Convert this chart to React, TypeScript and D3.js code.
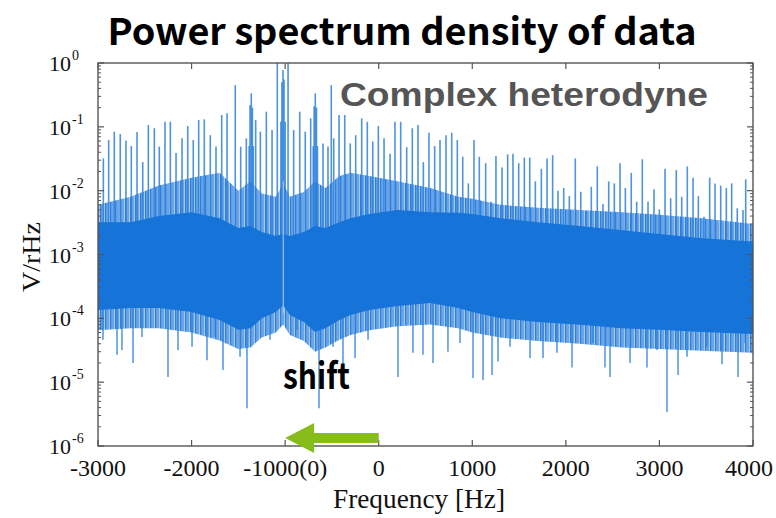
import React from 'react';
import * as d3 from 'd3';

const W = 776;
const H = 518;

// ---- axis data ----
const xTickValues = [-3000, -2000, -1000, 0, 1000, 2000, 3000, 4000];
const xTickLabels = ['-3000', '-2000', '-1000(0)', '0', '1000', '2000', '3000', '4000'];
const yTickExponents = [0, -1, -2, -3, -4, -5, -6];

// ---- noise band envelope (V/rHz) ----
const envFreqs = [-3000, -2650, -2350, -2000, -1700, -1500, -1370, -1250, -1100, -1020, -950, -800, -680, -570, -420, -300, -100, 200, 550, 850, 1000, 1300, 1700, 2150, 2600, 3000, 3450, 4000];
const coreTop = [3.2e-3, 3.2e-3, 4.0e-3, 4.6e-3, 3.7e-3, 2.6e-3, 2.8e-3, 2.25e-3, 1.95e-3, 2.1e-3, 1.95e-3, 2.25e-3, 2.8e-3, 2.6e-3, 3.2e-3, 3.7e-3, 4.3e-3, 5.0e-3, 4.6e-3, 4.5e-3, 4.3e-3, 3.7e-3, 3.2e-3, 2.8e-3, 2.4e-3, 2.1e-3, 1.8e-3, 1.6e-3];
const coreBottom = [1.35e-4, 1.45e-4, 1.45e-4, 1.26e-4, 9.4e-5, 6.6e-5, 7.0e-5, 1.0e-4, 1.26e-4, 1.6e-4, 1.13e-4, 8.8e-5, 6.1e-5, 7.0e-5, 9.4e-5, 1.13e-4, 1.35e-4, 1.56e-4, 1.74e-4, 1.45e-4, 1.26e-4, 1.0e-4, 8.8e-5, 7.9e-5, 7.0e-5, 6.6e-5, 6.1e-5, 5.7e-5];
const fringeTop = [6.0e-3, 8.0e-3, 1.2e-2, 1.6e-2, 1.9e-2, 1.0e-2, 1.4e-2, 9.0e-3, 8.0e-3, 1.3e-2, 8.0e-3, 9.5e-3, 1.4e-2, 1.1e-2, 1.7e-2, 1.9e-2, 1.7e-2, 1.4e-2, 1.1e-2, 8.0e-3, 7.5e-3, 6.0e-3, 5.4e-3, 5.0e-3, 4.6e-3, 4.2e-3, 3.7e-3, 3.0e-3];
const fringeBottom = [6.5e-5, 7.0e-5, 7.0e-5, 6.0e-5, 4.5e-5, 3.3e-5, 3.5e-5, 5.0e-5, 6.0e-5, 8.0e-5, 5.5e-5, 4.4e-5, 3.0e-5, 3.5e-5, 4.6e-5, 5.5e-5, 6.5e-5, 7.5e-5, 8.0e-5, 7.0e-5, 6.0e-5, 5.0e-5, 4.4e-5, 4.0e-5, 3.5e-5, 3.3e-5, 3.1e-5, 2.9e-5];

// ---- upward spectral lines ----
const spikeFreqs = [
  -2943, -2886, -2826, -2762, -2701, -2644, -2583, -2522, -2462, -2398, -2345, -2284, -2227, -2166, -2102, -2041, -1982, -1924, -1864, -1800, -1739, -1678, -1621,
  -1533, -1475, -1415, -1385, -1375, -1362, -1350, -1340, -1315, -1265, -1201, -1140, -1084, -1045, -1035, -1023, -1012, -1000, -969, -909, -844, -785, -727,
  -700, -690, -678, -665, -655, -595, -542, -507, -481, -424, -363, -304, -246,
  -182, -122, -64, -4, 57, 121, 174, 235, 299, 359, 420, 477, 537, 598, 655, 719, 780, 840, 898, 958, 1018, 1075, 1143, 1200,
  1253, 1318, 1378, 1435, 1496, 1556, 1614, 1674, 1738, 1799, 1859, 1916, 1977, 2037, 2101, 2159, 2215, 2272, 2336, 2397, 2458, 2518, 2579, 2636,
  2699, 2757, 2817, 2878, 2942, 2999, 3060, 3120, 3180, 3238, 3298, 3359, 3416, 3476, 3537, 3594, 3655, 3715, 3772, 3832, 3893, 3922,
];
const spikeValues = [
  3.2e-2, 6.2e-2, 8.4e-2, 7.7e-2, 6.1e-2, 5.0e-2, 8.3e-2, 2.8e-2, 0.107, 9.5e-2, 4.9e-2, 0.12, 0.12, 3.9e-2, 6.6e-2, 0.103, 6.2e-2, 0.128, 0.131, 7.4e-2, 4.9e-2, 0.153, 0.163,
  0.45, 4.9e-2, 6.6e-2, 0.05, 0.22, 0.335, 0.2, 0.05, 0.128, 8.4e-2, 0.173, 8.9e-2, 1.0, 0.12, 0.5, 0.78, 0.55, 0.12, 1.0, 8.9e-2, 0.173, 8.4e-2, 0.136,
  0.05, 0.21, 0.335, 0.2, 0.05, 5.5e-2, 4.9e-2, 0.45, 6.6e-2, 0.153, 0.153, 5.5e-2, 7.4e-2,
  0.136, 0.12, 5.9e-2, 0.103, 6.6e-2, 3.8e-2, 0.12, 0.12, 4.8e-2, 9.5e-2, 0.107, 2.8e-2, 8.1e-2, 5.0e-2, 6.2e-2, 7.4e-2, 8.1e-2, 6.2e-2, 3.4e-2, 1.3e-2, 6.2e-2, 3.4e-2, 2.7e-2, 6.7e-3,
  3.5e-2, 2.3e-2, 3.7e-2, 3.8e-2, 2.7e-2, 3.3e-2, 3.3e-2, 1.4e-2, 2.2e-2, 3.2e-2, 3.6e-2, 1.0e-2, 1.1e-2, 8.2e-3, 3.2e-2, 9.6e-3, 4.7e-3, 1.15e-2, 2.4e-2, 6.2e-3, 1.4e-2, 1.3e-2, 2.7e-2, 1.1e-2,
  1.9e-2, 6.7e-3, 3.1e-2, 6.7e-3, 1.05e-2, 5.1e-3, 2.2e-2, 7.6e-3, 2.1e-2, 8.0e-3, 2.4e-2, 1.6e-2, 8.2e-3, 3.9e-3, 1.6e-2, 1.3e-2, 1.2e-2, 1.1e-2, 1.3e-2, 5.3e-3, 5.0e-3, 1.5e-2,
];

// ---- downward dips ----
const dipFreqs = [-2947, -2797, -2744, -2626, -2530, -2252, -2145, -1995, -1835, -1750, -1664, -1482, -1408, -1162, -873, -638, -489, -382, -253, -114, 206, 366, 473, 580, 740, 869, 1008, 1115, 1211, 1275, 1403, 1617, 1756, 1905, 2066, 2290, 2418, 2472, 2686, 2867, 2974, 3081, 3199, 3295, 3508, 3669, 3840, 3915];
const dipValues = [4.6e-5, 2.7e-5, 3.2e-5, 2.0e-5, 5.1e-5, 1.2e-5, 3.2e-5, 3.6e-5, 2.2e-5, 5.1e-5, 1.55e-5, 2.5e-5, 3.9e-6, 4.6e-5, 6.6e-5, 3.9e-6, 3.6e-5, 1.55e-5, 2.4e-5, 4.6e-5, 1.2e-5, 2.9e-5, 2.7e-5, 2.0e-5, 3.0e-5, 4.1e-5, 1.16e-5, 1.08e-5, 1.3e-5, 2.1e-5, 3.6e-5, 2.4e-5, 2.4e-5, 2.9e-5, 1.7e-5, 4.1e-5, 1.7e-5, 1.2e-5, 2.0e-5, 1.7e-5, 3.2e-5, 3.4e-6, 1.3e-5, 2.5e-5, 3.6e-5, 1.9e-5, 1.2e-5, 4.1e-5];

const gapFreq = -1020;
const shiftFromHz = 0;
const shiftToHz = -1000;

const TITLE = 'Power spectrum density of data';
const ANNOTATION = 'Complex heterodyne';
const SHIFT_LABEL = 'shift';
const X_LABEL = 'Frequency [Hz]';
const Y_LABEL = 'V/rHz';

const PLOT = { left: 98, right: 753, top: 63, bottom: 446 };
const BLUE = '#1673d8';
const AXIS = '#555';
const SERIF = '"Liberation Serif", "Times New Roman", serif';

export default function App() {
  const x = d3.scaleLinear().domain([-3000, 4000]).range([PLOT.left, PLOT.right]);
  const y = d3.scaleLog().domain([1e-6, 1]).range([PLOT.bottom, PLOT.top]);
  const idx = envFreqs.map((_, i) => i);

  const fringeArea = d3.area<number>()
    .x((i) => x(envFreqs[i]))
    .y0((i) => y(fringeBottom[i]))
    .y1((i) => y(fringeTop[i]))
    .curve(d3.curveLinear)(idx) || '';
  const coreArea = d3.area<number>()
    .x((i) => x(envFreqs[i]))
    .y0((i) => y(coreBottom[i]))
    .y1((i) => y(coreTop[i]))
    .curve(d3.curveLinear)(idx) || '';

  const minorTicks: number[] = [];
  for (let e = -6; e < 0; e++) for (let m = 2; m <= 9; m++) minorTicks.push(m * Math.pow(10, e));

  const arrowY = 438;
  const tipX = x(shiftToHz);
  const tailX = x(shiftFromHz);

  return (
    <svg width={W} height={H} style={{ position: 'absolute', left: 0, top: 0, background: '#fff' }}>
      <defs>
        <clipPath id="plotClip">
          <rect x={PLOT.left} y={PLOT.top} width={PLOT.right - PLOT.left} height={PLOT.bottom - PLOT.top} />
        </clipPath>
        <pattern id="noiseLines" patternUnits="userSpaceOnUse" width={5} height={7}>
          <rect x={0} y={0} width={5} height={7} fill="#9cc2ee" />
          <rect x={0} y={0} width={1.6} height={7} fill={BLUE} />
          <rect x={2.4} y={0} width={1.2} height={7} fill="#2f82dd" />
        </pattern>
      </defs>
      <rect x={0} y={0} width={W} height={H} fill="#fff" />

      {/* title */}
      <text x={402} y={45} textAnchor="middle" fontFamily='"Noto Sans CJK JP", "Noto Sans", sans-serif' fontWeight={700} fontSize={37}
        textLength={589} lengthAdjust="spacingAndGlyphs" fill="#000">{TITLE}</text>

      <g clipPath="url(#plotClip)">
        <path d={fringeArea} fill="url(#noiseLines)" opacity={0.9} />
        {spikeFreqs.map((f, i) => (
          <line key={'s' + i} x1={x(f)} x2={x(f)} y1={y(1.5e-3)} y2={y(Math.min(spikeValues[i], 1))}
            stroke="#2e80dc" strokeWidth={1.6} strokeOpacity={0.85} />
        ))}
        {dipFreqs.map((f, i) => (
          <line key={'d' + i} x1={x(f)} x2={x(f)} y1={y(2e-4)} y2={y(dipValues[i])}
            stroke="#2e80dc" strokeWidth={1.5} strokeOpacity={0.85} />
        ))}
        <path d={coreArea} fill={BLUE} />
        <line x1={x(gapFreq)} x2={x(gapFreq)} y1={y(1.4e-2)} y2={y(1.2e-4)} stroke="#9cc3ee" strokeWidth={1.2} />
      </g>

      {/* frame */}
      <rect x={PLOT.left} y={PLOT.top} width={PLOT.right - PLOT.left} height={PLOT.bottom - PLOT.top} fill="none" stroke={AXIS} strokeWidth={1.4} />

      {/* x ticks */}
      {xTickValues.map((v, i) => (
        <g key={'xt' + i}>
          <line x1={x(v)} x2={x(v)} y1={PLOT.bottom} y2={PLOT.bottom - 6} stroke={AXIS} strokeWidth={1.2} />
          <line x1={x(v)} x2={x(v)} y1={PLOT.top} y2={PLOT.top + 6} stroke={AXIS} strokeWidth={1.2} />
          <text x={Math.min(x(v), W - 27)} y={476} textAnchor="middle" fontFamily={SERIF} fontSize={24} fill="#111">{xTickLabels[i]}</text>
        </g>
      ))}

      {/* y ticks */}
      {yTickExponents.map((e) => {
        const yy = y(Math.pow(10, e));
        return (
          <g key={'yt' + e}>
            <line x1={PLOT.left} x2={PLOT.left + 6} y1={yy} y2={yy} stroke={AXIS} strokeWidth={1.2} />
            <line x1={PLOT.right} x2={PLOT.right - 6} y1={yy} y2={yy} stroke={AXIS} strokeWidth={1.2} />
            <text x={71} y={yy + 8} textAnchor="end" fontFamily={SERIF} fontSize={22} fill="#111">10</text>
            <text x={72} y={yy - 3} textAnchor="start" fontFamily={SERIF} fontSize={14} fill="#111">{String(e)}</text>
          </g>
        );
      })}
      {minorTicks.map((v, i) => (
        <g key={'mt' + i}>
          <line x1={PLOT.left} x2={PLOT.left + 3} y1={y(v)} y2={y(v)} stroke={AXIS} strokeWidth={1} />
          <line x1={PLOT.right} x2={PLOT.right - 3} y1={y(v)} y2={y(v)} stroke={AXIS} strokeWidth={1} />
        </g>
      ))}

      {/* axis labels */}
      <text x={419} y={508} textAnchor="middle" fontFamily={SERIF} fontSize={27} textLength={172} lengthAdjust="spacingAndGlyphs" fill="#111">{X_LABEL}</text>
      <text transform={`translate(40,257) rotate(-90)`} textAnchor="middle" fontFamily={SERIF} fontSize={25} textLength={70} lengthAdjust="spacingAndGlyphs" fill="#111">{Y_LABEL}</text>

      {/* annotations */}
      <text x={340} y={106} fontFamily='"Liberation Sans", Arial, sans-serif' fontWeight={700} fontSize={34} textLength={368} lengthAdjust="spacingAndGlyphs" fill="#555">{ANNOTATION}</text>
      <text x={283} y={389} fontFamily='"Noto Sans CJK JP", "Noto Sans", sans-serif' fontWeight={700} fontSize={36} textLength={67} lengthAdjust="spacingAndGlyphs" fill="#000">{SHIFT_LABEL}</text>

      {/* green arrow */}
      <path d={`M${tailX},${arrowY - 5} L${tipX + 29},${arrowY - 5} L${tipX + 29},${arrowY - 15} L${tipX},${arrowY} L${tipX + 29},${arrowY + 15} L${tipX + 29},${arrowY + 5} L${tailX},${arrowY + 5} Z`}
        fill="#86bd1a" />
    </svg>
  );
}
